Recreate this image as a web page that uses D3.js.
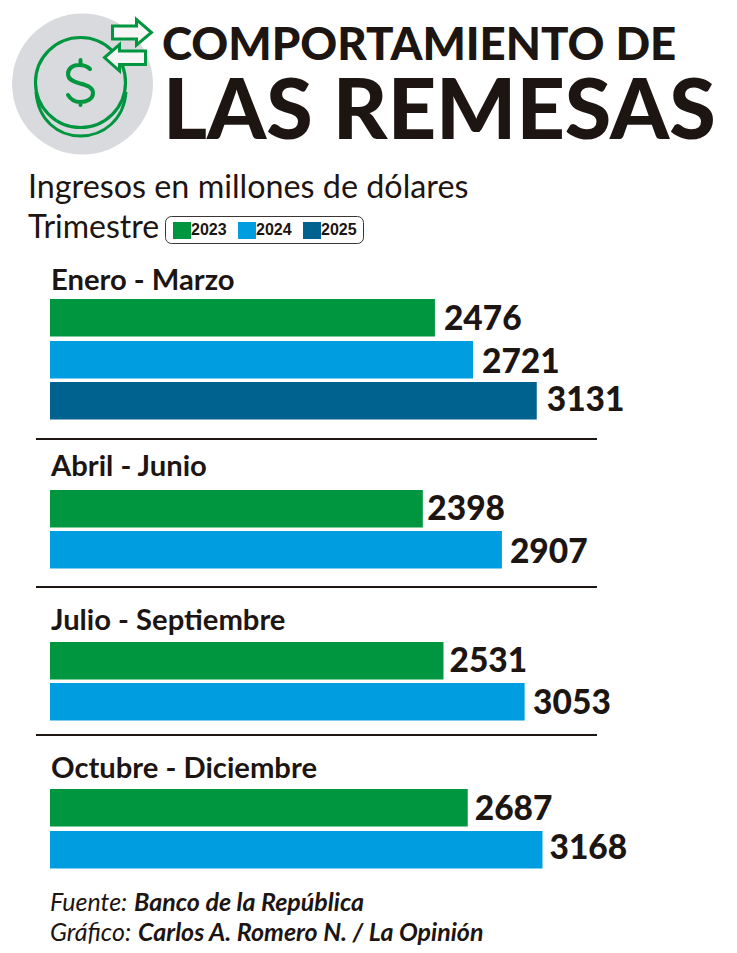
<!DOCTYPE html>
<html><head><meta charset="utf-8">
<script src="https://cdn.jsdelivr.net/npm/d3@7/dist/d3.min.js"></script>
<style>html,body{margin:0;padding:0;background:#fff}svg{display:block}text{font-family:Lato,sans-serif;fill:#1d1512}</style>
</head><body><svg id="c" width="737" height="953"></svg>
<script>
const years=["2023","2024","2025"];
const yearColors=["#009640","#009ee0","#00628f"];
const quarters=["Enero - Marzo","Abril - Junio","Julio - Septiembre","Octubre - Diciembre"];
const values2023=[2476,2398,2531,2687];
const values2024=[2721,2907,3053,3168];
const values2025=[3131,null,null,null];
const barTops=[[299,341,382],[490,531],[642,683],[789,831]];
const valueBase=[[330,373,411],[520,563],[672,714],[820,859]];
const valueGap=[[9,9,10],[4.5,8],[6,8.5],[7,7]];
const labelY=[290,476,630,778];
const ruleY=[439,587,735];

const svg=d3.select("#c");
const x=d3.scaleLinear().domain([0,3168]).range([50,542.5]);
const all=[values2023,values2024,values2025];

// icon
const g=svg.append("g");
g.append("circle").attr("cx",82.5).attr("cy",84).attr("r",70.5).attr("fill","#d9dade");
const green="#009640";
g.append("path").attr("d","M36 92 C38 120 58 136 80.5 136 C103 136 124 120 126 92").attr("fill","none").attr("stroke",green).attr("stroke-width",3);
g.append("circle").attr("cx",80.5).attr("cy",82.5).attr("r",45).attr("fill","none").attr("stroke",green).attr("stroke-width",3.2);
g.append("path").attr("d","M90 69 C86 65 82 65 79 65 C72 65 68 69 68 74 C68 80 74 82 80 83.5 C87 85 93 88 93 93 C93 99 87 102 80 102 C75 102 71 100 68 95 M80.5 60 V65 M80.5 102 V105")
 .attr("fill","none").attr("stroke",green).attr("stroke-width",4).attr("stroke-linecap","round");
const arrow1="M112.5 26 H136.5 V19.5 L151.5 32.5 L136.5 45 V39 H112.5 Z";
const arrow2="M145.5 51 H119.5 V44.5 L104.5 57.5 L119.5 71 V64.5 H145.5 Z";
g.append("path").attr("d",arrow1).attr("fill","#f6f6f6").attr("stroke",green).attr("stroke-width",3);
g.append("path").attr("d",arrow2).attr("fill","#f6f6f6").attr("stroke",green).attr("stroke-width",3);

// titles
svg.append("text").attr("x",162).attr("y",60).style("font-size","45.6px").style("font-weight",900).text("COMPORTAMIENTO DE");
svg.append("text").attr("x",163).attr("y",139).style("font-size","84.4px").style("font-weight",900).text("LAS REMESAS");
svg.append("text").attr("x",28).attr("y",198).style("font-size","32.3px").text("Ingresos en millones de dólares");
svg.append("text").attr("x",28).attr("y",238).style("font-size","32px").text("Trimestre");

// legend
svg.append("rect").attr("x",165.5).attr("y",216.5).attr("width",198).attr("height",27).attr("rx",6).attr("fill","#fff").attr("stroke","#3a3532").attr("stroke-width",1);
const lx=[173,238,303];
years.forEach((y,i)=>{
  svg.append("rect").attr("x",lx[i]).attr("y",222).attr("width",18).attr("height",17).attr("fill",yearColors[i]);
  svg.append("text").attr("x",lx[i]+18).attr("y",235).style("font-family","Liberation Sans,sans-serif").style("font-size","16px").style("font-weight",700).text(y);
});

// bars
quarters.forEach((q,i)=>{
  svg.append("text").attr("x",51).attr("y",labelY[i]).style("font-size","29.2px").style("font-weight",700).text(q);
  all.forEach((s,j)=>{
    if(s[i]==null) return;
    const top=barTops[i][j];
    svg.append("rect").attr("x",x(0)).attr("y",top).attr("width",x(s[i])-x(0)).attr("height",37.5).attr("fill",yearColors[j]);
    svg.append("text").attr("x",x(s[i])+valueGap[i][j]).attr("y",valueBase[i][j]).style("font-size","33.5px").style("font-weight",900).text(s[i]);
  });
});
ruleY.forEach(y=>svg.append("line").attr("x1",36).attr("x2",597).attr("y1",y).attr("y2",y).attr("stroke","#1d1512").attr("stroke-width",2));

// footer
function foot(y,a,ax,b,bx){
  svg.append("text").attr("x",ax).attr("y",y).style("font-size","25px").style("font-style","italic").text(a);
  svg.append("text").attr("x",bx).attr("y",y).style("font-size","25px").style("font-style","italic").style("font-weight",700).text(b);
}
foot(911,"Fuente:",50,"Banco de la República",134);
foot(941,"Gráfico:",50,"Carlos A. Romero N. / La Opinión",138);
</script></body></html>
